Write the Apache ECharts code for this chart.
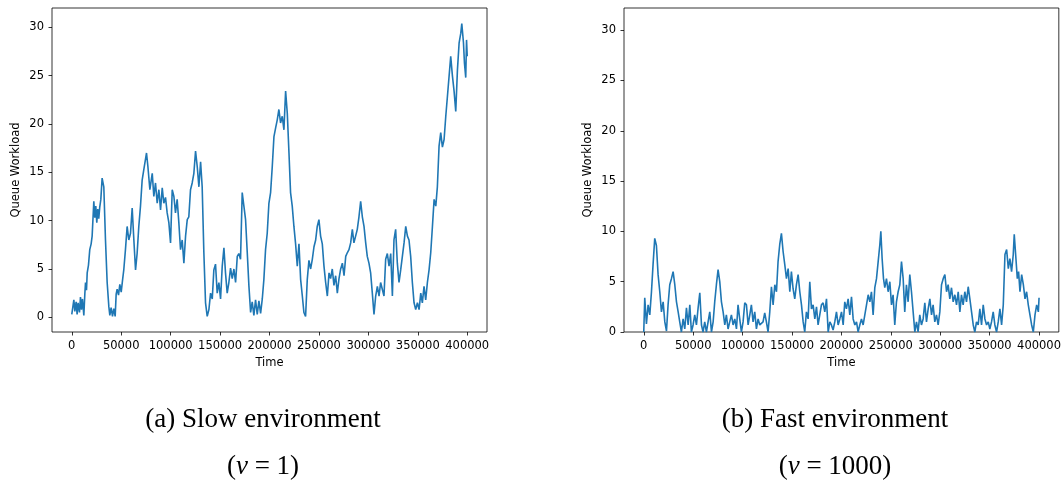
<!DOCTYPE html>
<html>
<head>
<meta charset="utf-8">
<script src="https://cdn.jsdelivr.net/npm/echarts@6/dist/echarts.min.js"></script>
<style>
html,body{margin:0;padding:0;background:#fff;}
#chart{width:1064px;height:481px;}
</style>
</head>
<body>
<div id="chart"></div>
<script>
// ---- data ----
const xTicks = [0, 50000, 100000, 150000, 200000, 250000, 300000, 350000, 400000];
const yTicks = [0, 5, 10, 15, 20, 25, 30];

const slowTime = [0,2100,3100,4400,5400,6400,7800,8800,9800,10800,12200,13200,13900,14900,15600,16900,18200,19600,20600,22300,23300,24300,25300,26300,27300,28300,29400,30700,31600,32400,34100,35800,37500,38500,39800,41200,42500,43900,44900,45900,47300,48600,50000,51300,52600,54300,56000,57700,59400,61100,62800,64500,66100,67800,69500,71200,72900,75600,77000,79000,81400,83000,84700,86400,88100,89800,91500,93100,94800,96500,98200,99900,101600,103300,104900,106600,108300,110000,111700,113400,115100,116800,118400,120100,121800,123500,125200,126900,128600,130300,131900,133600,135300,137000,138700,140400,142100,143700,145400,147100,148800,150500,152200,153900,155500,157200,158900,160600,162300,164000,165700,167400,169000,170700,172400,174100,175800,177500,179200,180900,182500,184200,185900,187600,189300,191000,192700,194300,196000,197700,199400,201100,202800,204500,206200,207800,209500,211200,212900,214600,216300,218000,219700,221300,223000,224700,226400,228100,229800,231500,233200,234800,236500,238200,239900,241600,243300,245000,246700,248300,250000,251700,253400,255100,256800,258500,260200,261800,263500,265200,266900,268600,270300,272000,273700,275400,277100,278800,280400,282100,283800,285400,287100,288800,290500,292200,293900,295600,297300,298900,300600,302300,304000,305700,307400,309100,310800,312400,314100,315800,317500,319200,320900,322600,324300,325900,327600,329300,331000,332700,334400,336100,337800,339500,341100,342800,344500,346200,347900,349600,351300,353000,354600,356300,358000,359700,361400,363100,364800,366500,368200,369800,371500,373200,374900,376600,378300,380000,381700,383300,385000,386700,388400,390100,391800,393500,394500,396200,397200,398500,399300,400000];
const slowLoad = [0.3,1.8,0.6,1.6,0.3,1.5,0.5,2.1,0.8,1.9,0.2,2.4,3.6,2.8,4.6,5.4,7.0,7.6,8.4,12.0,10.3,11.5,9.8,11.2,10.2,11.4,12.2,14.4,14.6,13.5,8.0,3.6,1.1,0.2,1.0,0.1,0.9,0.1,2.4,2.9,2.3,3.4,2.6,3.8,4.9,7.0,9.4,8.0,8.7,11.3,8.0,4.9,6.6,9.4,11.5,14.2,15.3,17.0,15.6,13.2,14.9,12.5,13.9,11.8,13.2,11.1,13.4,11.8,12.4,10.8,9.8,7.7,13.2,12.5,10.8,12.2,9.8,7.0,8.0,5.6,8.4,10.1,10.4,13.2,13.9,14.9,17.2,15.6,13.5,16.1,13.5,6.7,1.5,0.1,0.8,2.5,1.9,4.9,5.5,2.5,3.6,1.9,5.3,7.2,4.6,2.5,3.6,5.1,4.0,5.0,3.6,6.3,6.6,6.0,12.9,11.5,10.1,6.7,3.2,0.5,1.6,0.2,1.8,0.3,1.7,0.4,1.9,3.9,7.0,8.7,11.8,12.9,15.6,18.7,19.6,20.4,21.5,20.1,20.8,19.4,23.4,21.1,17.0,12.9,11.5,9.4,7.6,5.3,7.6,3.9,2.2,0.5,0.1,3.9,5.9,5.0,6.0,7.3,8.0,9.4,10.1,8.4,7.6,5.3,3.6,2.2,4.6,4.0,5.0,3.3,4.3,2.5,4.0,5.0,5.6,4.3,6.3,6.7,7.0,7.7,9.1,7.7,8.4,9.1,10.4,12.0,10.4,9.4,7.7,6.3,5.6,4.6,2.5,0.3,2.2,3.2,2.2,3.6,2.9,2.2,6.0,6.6,5.3,6.6,2.2,8.0,9.1,5.6,3.6,4.9,6.3,7.7,9.4,8.4,8.0,6.3,3.6,1.5,0.8,1.5,0.8,2.5,1.5,3.2,1.8,3.6,4.9,6.7,9.4,12.2,11.5,13.5,17.7,19.1,17.6,18.4,20.8,22.9,23.1,27.0,25.0,23.4,21.3,25.6,28.4,29.4,30.4,28.4,26.3,24.8,28.7,27.0];

const fastTime = [0,1000,2700,4400,6100,7800,9400,11100,12800,14500,16200,17900,19600,21300,23000,24600,26300,28000,29700,31400,33100,34800,36400,38100,39800,41500,43200,44900,46600,48200,49900,51600,53300,55000,56700,58400,60000,61700,63400,65100,66800,68500,70200,71800,73500,75200,76900,78600,80300,82000,83600,85300,87000,88700,90400,92100,93800,95400,97100,98800,100500,102200,103900,105600,107300,108900,110600,112300,114000,115700,117400,120700,122400,124100,125800,127500,129200,130900,132600,134300,135900,137600,139300,141000,142700,144400,146100,147800,149400,151100,152800,154500,156200,157900,159600,161300,162900,164600,166300,168000,169700,171400,173100,174800,176400,178100,179800,181500,183200,184900,186600,188300,189900,191600,193300,195000,196700,198400,200100,201800,203400,205100,206800,208500,210200,211900,213600,215300,216900,218600,220300,222000,223700,225400,227100,228800,230400,232100,233800,235500,237200,238900,239900,241200,242600,243900,245600,247300,249000,250700,252300,254000,255700,257400,259100,260800,262500,264100,265800,267500,269200,270900,272600,274300,276000,277600,279300,281000,282700,284400,286100,287800,289500,291200,292800,294500,296200,297900,299600,301300,303000,304700,306400,308000,309700,311400,313100,314800,316500,318200,319900,321500,323200,324900,326600,328300,330000,331700,333400,335000,336700,338400,340100,341800,343500,345200,346900,348600,350200,351900,353600,355300,357000,358700,360400,362100,363800,365500,367200,368900,370500,372200,373900,374900,376600,378000,379300,380700,382400,384100,385800,387400,389100,390800,392500,394200,395900,397600,399300,400000];
const fastLoad = [0,3.4,0.8,2.7,1.7,4.0,6.7,9.3,8.6,5.7,4.0,2.0,3.0,1.0,0.1,2.7,4.7,5.3,6.0,4.7,3.0,2.0,1.0,0,1.3,0.3,2.4,0.7,2.7,0,0.7,1.7,0.7,2.4,3.9,0.7,0,1.0,0,1.0,2.0,0,1.0,3.0,4.7,6.2,5.0,3.0,2.0,0.7,1.7,0.3,1.0,1.7,0.7,1.3,0.3,2.7,1.3,0,1.0,2.9,2.7,0.7,1.7,2.7,1.0,2.0,0.3,1.3,0.7,1.0,1.9,1.0,0,2.0,4.5,2.7,4.7,4.0,7.0,8.7,9.8,8.0,6.7,5.3,6.3,4.0,6.0,4.3,3.3,4.7,5.7,4.0,2.7,1.0,0,2.0,1.3,5.0,2.3,2.7,1.3,2.5,0.7,1.7,2.7,2.9,2.0,3.3,0,1.0,0.7,0.2,1.0,2.0,0.7,1.3,2.0,0.7,3.0,2.3,3.3,1.7,3.5,1.3,0.7,1.0,0,0.7,1.3,0.7,1.7,2.7,3.7,3.0,4.0,1.7,4.4,5.3,7.0,8.7,10.0,7.3,5.3,4.4,5.3,4.0,5.0,2.7,3.7,0.7,3.0,4.0,4.7,7.0,5.3,2.0,4.7,3.0,5.7,4.0,2.0,0,1.0,0,1.7,0.7,1.3,2.9,1.0,2.3,3.3,1.7,2.7,1.0,1.7,0.7,2.0,4.7,5.3,5.7,4.0,4.7,3.3,4.4,3.0,3.7,2.7,4.0,2.0,3.7,2.7,4.0,3.0,4.5,3.3,2.0,0.7,0,1.0,0.7,2.3,0.7,2.7,1.3,0.7,1.0,0.3,1.0,2.0,0.7,0,1.0,2.3,0.7,2.7,7.7,8.2,6.3,7.3,6.0,7.7,9.7,7.3,5.3,6.0,4.0,5.7,4.7,3.3,4.0,2.7,1.7,0.7,0,1.7,2.7,2.0,3.4];

const xTitle = 'Time';
const yTitle = 'Queue Workload';

// ---- chart ----
const pair = (ts, vs) => ts.map((t, i) => [t, vs[i]]);
const FONT = 'DejaVu Sans';
const tickStyle = { color: '#000', width: 0.8 };

function xAxis(gi) {
  return {
    type: 'value', gridIndex: gi, min: -20000, max: 420000,
    name: xTitle, nameLocation: 'middle', nameGap: 24,
    nameTextStyle: { fontFamily: FONT, fontSize: 11.5, color: '#000' },
    axisLine: { show: false, onZero: false },
    axisTick: { show: true, inside: false, length: 3.5, lineStyle: tickStyle, customValues: xTicks },
    axisLabel: { fontFamily: FONT, fontSize: 11.5, color: '#000', margin: 8, customValues: xTicks,
      formatter: v => String(v) },
    splitLine: { show: false }
  };
}
function yAxis(gi, min, max) {
  return {
    type: 'value', gridIndex: gi, min: min, max: max,
    name: yTitle, nameLocation: 'middle', nameGap: 30,
    nameTextStyle: { fontFamily: FONT, fontSize: 11.5, color: '#000' },
    axisLine: { show: false, onZero: false },
    axisTick: { show: true, inside: false, length: 3.5, lineStyle: tickStyle, customValues: yTicks },
    axisLabel: { fontFamily: FONT, fontSize: 11.5, color: '#000', margin: 8, customValues: yTicks,
      formatter: v => String(v) },
    splitLine: { show: false }
  };
}
function series(gi, ts, vs) {
  return {
    type: 'line', xAxisIndex: gi, yAxisIndex: gi, data: pair(ts, vs),
    showSymbol: false, symbol: 'none',
    lineStyle: { color: '#1f77b4', width: 1.6 },
    itemStyle: { color: '#1f77b4' }
  };
}

const captionStyle = {
  fontFamily: 'Liberation Serif', fontSize: 27, fill: '#000'
};

const chart = echarts.init(document.getElementById('chart'), null, { renderer: 'canvas' });
chart.setOption({
  animation: false,
  backgroundColor: '#fff',
  grid: [
    { left: 52, top: 8, width: 435, height: 324, show: true, borderColor: '#000', borderWidth: 0.8, backgroundColor: 'transparent' },
    { left: 624, top: 8, width: 435, height: 324, show: true, borderColor: '#000', borderWidth: 0.8, backgroundColor: 'transparent' }
  ],
  xAxis: [xAxis(0), xAxis(1)],
  yAxis: [yAxis(0, -1.52, 32.0), yAxis(1, 0, 32.2)],
  series: [series(0, slowTime, slowLoad), series(1, fastTime, fastLoad)],
  graphic: [
    { type: 'text', x: 263, y: 420, style: Object.assign({ text: '(a) Slow environment', align: 'center', verticalAlign: 'middle' }, captionStyle) },
    { type: 'text', x: 835, y: 420, style: Object.assign({ text: '(b) Fast environment', align: 'center', verticalAlign: 'middle' }, captionStyle) },
    { type: 'text', x: 263, y: 467, style: Object.assign({
        text: '({i|v} = 1)', align: 'center', verticalAlign: 'middle',
        rich: { i: { fontFamily: 'Liberation Serif', fontSize: 27, fontStyle: 'italic', fill: '#000' } } }, captionStyle) },
    { type: 'text', x: 835, y: 467, style: Object.assign({
        text: '({i|v} = 1000)', align: 'center', verticalAlign: 'middle',
        rich: { i: { fontFamily: 'Liberation Serif', fontSize: 27, fontStyle: 'italic', fill: '#000' } } }, captionStyle) }
  ]
});
</script>
</body>
</html>
